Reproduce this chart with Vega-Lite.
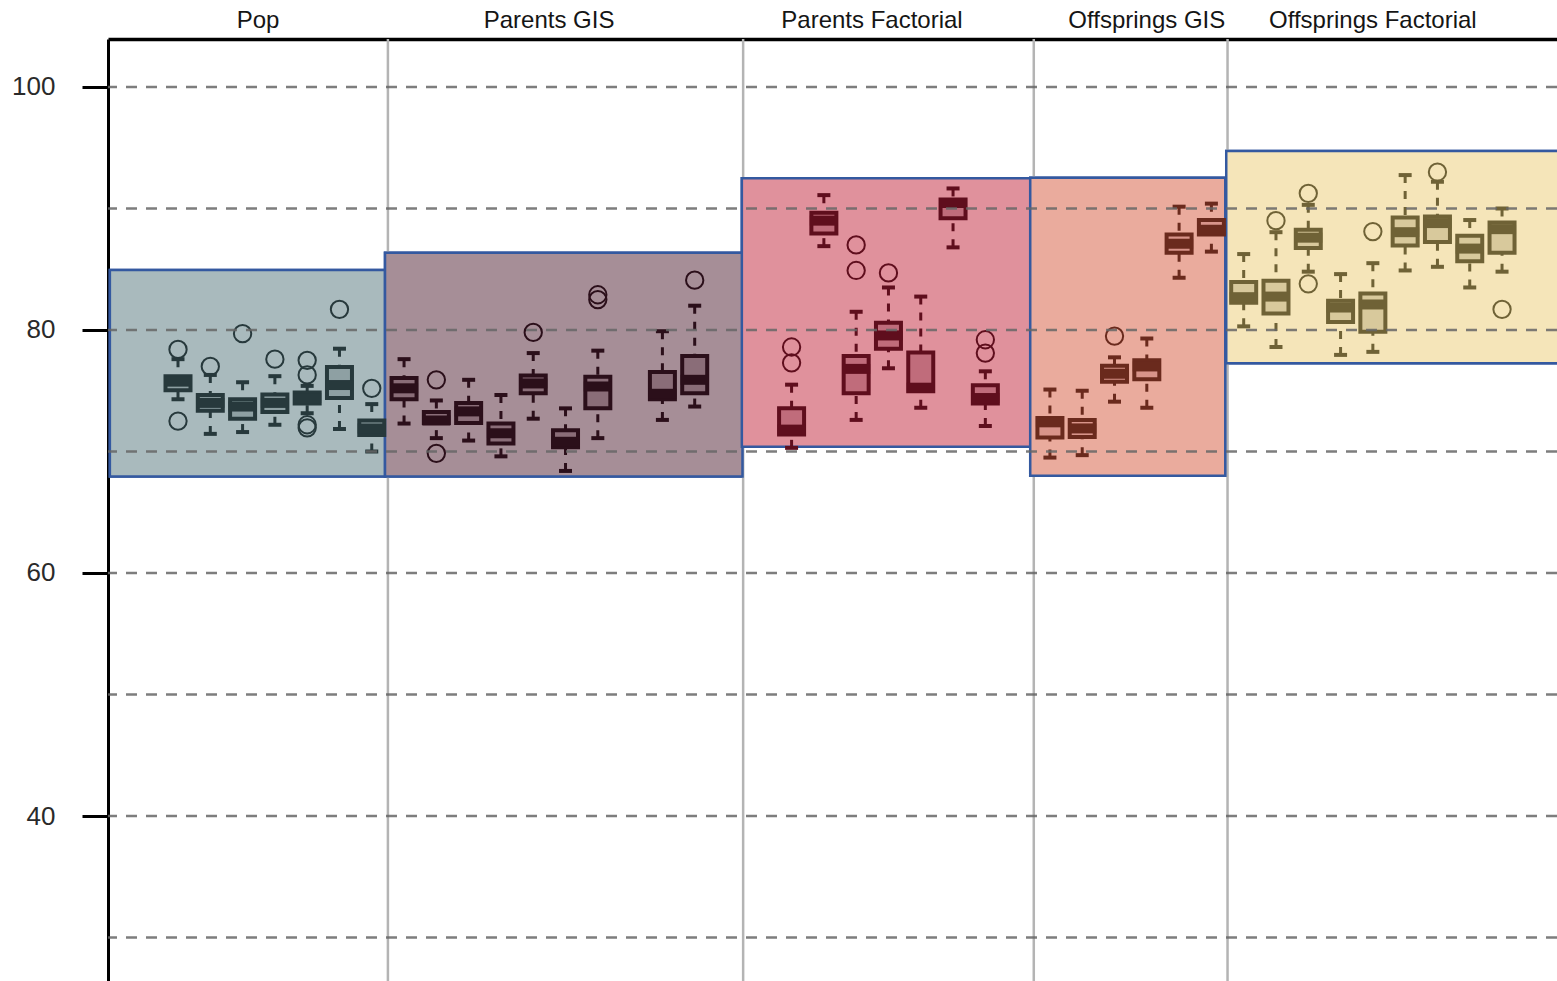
{
  "$schema": "https://vega.github.io/schema/vega-lite/v6.json",
  "width": 1449,
  "height": 942,
  "autosize": {"type": "none"},
  "padding": {"left": 108, "top": 39, "right": 0, "bottom": 0},
  "background": "#ffffff",
  "config": {"view": {"stroke": null}, "font": "Liberation Sans"},
  "datasets": {
    "groups": [
      {"group": "Pop", "start": -2.11, "end": 6.41, "low": 67.95, "high": 84.94, "labelAt": 2.48},
      {"group": "Parents GIS", "start": 6.41, "end": 17.48, "low": 67.95, "high": 86.36, "labelAt": 11.49},
      {"group": "Parents Factorial", "start": 17.46, "end": 26.39, "low": 70.4, "high": 92.48, "labelAt": 21.49},
      {"group": "Offsprings GIS", "start": 26.39, "end": 32.43, "low": 68.0, "high": 92.54, "labelAt": 30.0},
      {"group": "Offsprings Factorial", "start": 32.46, "end": 43.5, "low": 77.26, "high": 94.73, "labelAt": 37.0}
    ],
    "dividers": [{"at": 6.5}, {"at": 17.5}, {"at": 26.5}, {"at": 32.5}],
    "grid": [{"v": 30}, {"v": 40}, {"v": 50}, {"v": 60}, {"v": 70}, {"v": 80}, {"v": 90}, {"v": 100}],
    "boxes": [
      {"group": "Pop", "pos": 0, "lo": 74.3, "q1": 75.05, "med": 75.75, "q3": 76.2, "hi": 77.6},
      {"group": "Pop", "pos": 1, "lo": 71.45, "q1": 73.35, "med": 74.0, "q3": 74.65, "hi": 76.3},
      {"group": "Pop", "pos": 2, "lo": 71.6, "q1": 72.7, "med": 73.7, "q3": 74.3, "hi": 75.7},
      {"group": "Pop", "pos": 3, "lo": 72.2, "q1": 73.25, "med": 74.0, "q3": 74.7, "hi": 76.2},
      {"group": "Pop", "pos": 4, "lo": 73.15, "q1": 73.95, "med": 74.4, "q3": 74.85, "hi": 75.4},
      {"group": "Pop", "pos": 5, "lo": 71.85, "q1": 74.4, "med": 75.47, "q3": 76.95, "hi": 78.46},
      {"group": "Pop", "pos": 6, "lo": 70.0, "q1": 71.35, "med": 71.9, "q3": 72.55, "hi": 73.9},
      {"group": "Parents GIS", "pos": 7, "lo": 72.3, "q1": 74.3, "med": 75.2, "q3": 76.05, "hi": 77.6},
      {"group": "Parents GIS", "pos": 8, "lo": 71.1, "q1": 72.35, "med": 72.55, "q3": 73.25, "hi": 74.2},
      {"group": "Parents GIS", "pos": 9, "lo": 70.9, "q1": 72.35, "med": 73.3, "q3": 74.0, "hi": 75.9},
      {"group": "Parents GIS", "pos": 10, "lo": 69.6, "q1": 70.65, "med": 71.5, "q3": 72.3, "hi": 74.65},
      {"group": "Parents GIS", "pos": 11, "lo": 72.7, "q1": 74.8, "med": 75.6, "q3": 76.25, "hi": 78.1},
      {"group": "Parents GIS", "pos": 12, "lo": 68.4, "q1": 70.35, "med": 70.8, "q3": 71.75, "hi": 73.55},
      {"group": "Parents GIS", "pos": 13, "lo": 71.1, "q1": 73.55, "med": 75.35, "q3": 76.15, "hi": 78.3},
      {"group": "Parents GIS", "pos": 15, "lo": 72.6, "q1": 74.3, "med": 74.75, "q3": 76.55, "hi": 79.9},
      {"group": "Parents GIS", "pos": 16, "lo": 73.7, "q1": 74.8, "med": 75.9, "q3": 77.85, "hi": 82.0},
      {"group": "Parents Factorial", "pos": 19, "lo": 70.3, "q1": 71.4, "med": 71.8, "q3": 73.55, "hi": 75.5},
      {"group": "Parents Factorial", "pos": 20, "lo": 86.9, "q1": 87.95, "med": 89.0, "q3": 89.65, "hi": 91.1},
      {"group": "Parents Factorial", "pos": 21, "lo": 72.6, "q1": 74.8, "med": 76.8, "q3": 77.85, "hi": 81.5},
      {"group": "Parents Factorial", "pos": 22, "lo": 76.85, "q1": 78.45, "med": 79.55, "q3": 80.6, "hi": 83.5},
      {"group": "Parents Factorial", "pos": 23, "lo": 73.6, "q1": 74.95, "med": 75.25, "q3": 78.15, "hi": 82.75},
      {"group": "Parents Factorial", "pos": 24, "lo": 86.8, "q1": 89.2, "med": 90.45, "q3": 90.75, "hi": 91.65},
      {"group": "Parents Factorial", "pos": 25, "lo": 72.1, "q1": 73.95, "med": 74.4, "q3": 75.45, "hi": 76.6},
      {"group": "Offsprings GIS", "pos": 27, "lo": 69.5, "q1": 71.15, "med": 72.4, "q3": 72.75, "hi": 75.1},
      {"group": "Offsprings GIS", "pos": 28, "lo": 69.7, "q1": 71.2, "med": 71.9, "q3": 72.6, "hi": 75.0},
      {"group": "Offsprings GIS", "pos": 29, "lo": 74.1, "q1": 75.75, "med": 76.4, "q3": 77.05, "hi": 77.75},
      {"group": "Offsprings GIS", "pos": 30, "lo": 73.6, "q1": 75.95, "med": 77.0, "q3": 77.5, "hi": 79.3},
      {"group": "Offsprings GIS", "pos": 31, "lo": 84.3, "q1": 86.35, "med": 87.1, "q3": 87.85, "hi": 90.15},
      {"group": "Offsprings GIS", "pos": 32, "lo": 86.45, "q1": 87.85, "med": 88.25, "q3": 89.05, "hi": 90.4},
      {"group": "Offsprings Factorial", "pos": 33, "lo": 80.3, "q1": 82.25, "med": 82.7, "q3": 83.95, "hi": 86.25},
      {"group": "Offsprings Factorial", "pos": 34, "lo": 78.6, "q1": 81.35, "med": 82.75, "q3": 84.05, "hi": 88.05},
      {"group": "Offsprings Factorial", "pos": 35, "lo": 84.8, "q1": 86.75, "med": 87.6, "q3": 88.25, "hi": 90.3},
      {"group": "Offsprings Factorial", "pos": 36, "lo": 77.95, "q1": 80.65, "med": 81.85, "q3": 82.4, "hi": 84.6},
      {"group": "Offsprings Factorial", "pos": 37, "lo": 78.2, "q1": 79.85, "med": 82.1, "q3": 83.0, "hi": 85.5},
      {"group": "Offsprings Factorial", "pos": 38, "lo": 84.9, "q1": 86.95, "med": 88.05, "q3": 89.25, "hi": 92.75},
      {"group": "Offsprings Factorial", "pos": 39, "lo": 85.2, "q1": 87.25, "med": 88.8, "q3": 89.35, "hi": 92.2},
      {"group": "Offsprings Factorial", "pos": 40, "lo": 83.5, "q1": 85.65, "med": 86.7, "q3": 87.75, "hi": 89.05},
      {"group": "Offsprings Factorial", "pos": 41, "lo": 84.8, "q1": 86.35, "med": 88.3, "q3": 88.85, "hi": 90.0}
    ],
    "outliers": [
      {"group": "Pop", "pos": 0, "value": 78.4},
      {"group": "Pop", "pos": 0, "value": 72.5},
      {"group": "Pop", "pos": 1, "value": 77.0},
      {"group": "Pop", "pos": 2, "value": 79.7},
      {"group": "Pop", "pos": 3, "value": 77.6},
      {"group": "Pop", "pos": 4, "value": 77.5},
      {"group": "Pop", "pos": 4, "value": 76.3},
      {"group": "Pop", "pos": 4, "value": 72.2},
      {"group": "Pop", "pos": 4, "value": 71.95},
      {"group": "Pop", "pos": 5, "value": 81.7},
      {"group": "Pop", "pos": 6, "value": 75.2},
      {"group": "Parents GIS", "pos": 8, "value": 75.9},
      {"group": "Parents GIS", "pos": 8, "value": 69.85},
      {"group": "Parents GIS", "pos": 11, "value": 79.8},
      {"group": "Parents GIS", "pos": 13, "value": 82.9},
      {"group": "Parents GIS", "pos": 13, "value": 82.5},
      {"group": "Parents GIS", "pos": 16, "value": 84.1},
      {"group": "Parents Factorial", "pos": 19, "value": 78.6},
      {"group": "Parents Factorial", "pos": 19, "value": 77.3},
      {"group": "Parents Factorial", "pos": 21, "value": 87.0},
      {"group": "Parents Factorial", "pos": 21, "value": 84.9},
      {"group": "Parents Factorial", "pos": 22, "value": 84.7},
      {"group": "Parents Factorial", "pos": 25, "value": 79.2},
      {"group": "Parents Factorial", "pos": 25, "value": 78.1},
      {"group": "Offsprings GIS", "pos": 29, "value": 79.5},
      {"group": "Offsprings Factorial", "pos": 34, "value": 89.0},
      {"group": "Offsprings Factorial", "pos": 35, "value": 91.25},
      {"group": "Offsprings Factorial", "pos": 35, "value": 83.8},
      {"group": "Offsprings Factorial", "pos": 37, "value": 88.1},
      {"group": "Offsprings Factorial", "pos": 39, "value": 93.0},
      {"group": "Offsprings Factorial", "pos": 41, "value": 81.7}
    ]
  },
  "resolve": {"scale": {"fill": "independent"}},
  "layer": [
    {
      "data": {"name": "groups"},
      "mark": {"type": "rect", "stroke": "#3459a0", "strokeWidth": 2.5, "opacity": 1},
      "encoding": {
        "x": {"field": "start", "type": "quantitative",
              "scale": {"domain": [-2.1677, 42.702], "nice": false, "zero": false, "padding": 0},
              "axis": {"orient": "top", "title": null, "labels": false, "ticks": false, "grid": false,
                       "domain": true, "domainColor": "#000000", "domainWidth": 3.5}},
        "x2": {"field": "end"},
        "y": {"field": "low", "type": "quantitative",
              "scale": {"domain": [26.42, 103.95], "nice": false, "zero": false, "padding": 0},
              "axis": {"title": null, "values": [40, 60, 80, 100], "grid": false,
                       "domainColor": "#000000", "domainWidth": 3,
                       "tickColor": "#000000", "tickWidth": 3, "tickSize": 26,
                       "labelPadding": 27, "labelFontSize": 26, "labelFont": "Liberation Sans",
                       "labelColor": "#2a2a2a"}},
        "y2": {"field": "high"},
        "fill": {"field": "group", "type": "nominal", "legend": null,
                 "scale": {"domain": ["Pop", "Parents GIS", "Parents Factorial", "Offsprings GIS", "Offsprings Factorial"],
                           "range": ["#a9babd", "#a68e97", "#e0919c", "#eaab9d", "#f5e5b9"]}}
      }
    },
    {
      "data": {"name": "dividers"},
      "mark": {"type": "rule", "stroke": "#b4b4b4", "strokeWidth": 2.5},
      "encoding": {
        "x": {"field": "at", "type": "quantitative"}
      }
    },
    {
      "data": {"name": "groups"},
      "mark": {"type": "rect", "stroke": "#3459a0", "strokeWidth": 2.5, "opacity": 1},
      "encoding": {
        "x": {"field": "start", "type": "quantitative"},
        "x2": {"field": "end"},
        "y": {"field": "low", "type": "quantitative"},
        "y2": {"field": "high"},
        "fill": {"field": "group", "type": "nominal", "legend": null,
                 "scale": {"domain": ["Pop", "Parents GIS", "Parents Factorial", "Offsprings GIS", "Offsprings Factorial"],
                           "range": ["#a9babd", "#a68e97", "#e0919c", "#eaab9d", "#f5e5b9"]}}
      }
    },
    {
      "data": {"name": "boxes"},
      "mark": {"type": "rule", "strokeWidth": 3, "strokeDash": [8, 8], "opacity": 1},
      "encoding": {
        "x": {"field": "pos", "type": "quantitative"},
        "y": {"field": "hi", "type": "quantitative"},
        "y2": {"field": "q3"},
        "color": {"field": "group", "type": "nominal", "legend": null,
                  "scale": {"domain": ["Pop", "Parents GIS", "Parents Factorial", "Offsprings GIS", "Offsprings Factorial"],
                            "range": ["#27393c", "#2b0f1a", "#5f0e1d", "#6a2a1d", "#6f6236"]}}
      }
    },
    {
      "data": {"name": "boxes"},
      "mark": {"type": "rule", "strokeWidth": 3, "strokeDash": [8, 8], "opacity": 1},
      "encoding": {
        "x": {"field": "pos", "type": "quantitative"},
        "y": {"field": "lo", "type": "quantitative"},
        "y2": {"field": "q1"},
        "color": {"field": "group", "type": "nominal", "legend": null}
      }
    },
    {
      "data": {"name": "boxes"},
      "mark": {"type": "tick", "orient": "horizontal", "size": 13, "thickness": 4, "opacity": 1},
      "encoding": {
        "x": {"field": "pos", "type": "quantitative"},
        "y": {"field": "hi", "type": "quantitative"},
        "color": {"field": "group", "type": "nominal", "legend": null}
      }
    },
    {
      "data": {"name": "boxes"},
      "mark": {"type": "tick", "orient": "horizontal", "size": 13, "thickness": 4, "opacity": 1},
      "encoding": {
        "x": {"field": "pos", "type": "quantitative"},
        "y": {"field": "lo", "type": "quantitative"},
        "color": {"field": "group", "type": "nominal", "legend": null}
      }
    },
    {
      "data": {"name": "boxes"},
      "mark": {"type": "bar", "width": 25, "strokeWidth": 4, "opacity": 1},
      "encoding": {
        "x": {"field": "pos", "type": "quantitative"},
        "y": {"field": "q1", "type": "quantitative"},
        "y2": {"field": "q3"},
        "fill": {"field": "group", "type": "nominal", "legend": null,
                 "scale": {"domain": ["Pop", "Parents GIS", "Parents Factorial", "Offsprings GIS", "Offsprings Factorial"],
                           "range": ["#8ea0a3", "#8a6d78", "#c06c7b", "#d8948a", "#d8c99c"]}},
        "stroke": {"field": "group", "type": "nominal", "legend": null,
                   "scale": {"domain": ["Pop", "Parents GIS", "Parents Factorial", "Offsprings GIS", "Offsprings Factorial"],
                             "range": ["#27393c", "#2b0f1a", "#5f0e1d", "#6a2a1d", "#6f6236"]}}
      }
    },
    {
      "data": {"name": "boxes"},
      "mark": {"type": "tick", "orient": "horizontal", "size": 28, "thickness": 10, "opacity": 1},
      "encoding": {
        "x": {"field": "pos", "type": "quantitative"},
        "y": {"field": "med", "type": "quantitative"},
        "color": {"field": "group", "type": "nominal", "legend": null}
      }
    },
    {
      "data": {"name": "outliers"},
      "mark": {"type": "point", "shape": "circle", "size": 300, "filled": false, "strokeWidth": 2, "opacity": 1},
      "encoding": {
        "x": {"field": "pos", "type": "quantitative"},
        "y": {"field": "value", "type": "quantitative"},
        "color": {"field": "group", "type": "nominal", "legend": null}
      }
    },
    {
      "data": {"name": "grid"},
      "mark": {"type": "rule", "stroke": "#666666", "strokeOpacity": 0.85, "strokeWidth": 2.5, "strokeDash": [11, 9]},
      "encoding": {
        "y": {"field": "v", "type": "quantitative"}
      }
    },
    {
      "data": {"name": "groups"},
      "mark": {"type": "text", "fontSize": 24, "font": "Liberation Sans", "color": "#151515", "align": "center", "baseline": "alphabetic"},
      "encoding": {
        "x": {"field": "labelAt", "type": "quantitative"},
        "y": {"datum": 104.86, "type": "quantitative"},
        "text": {"field": "group"}
      }
    }
  ]
}
